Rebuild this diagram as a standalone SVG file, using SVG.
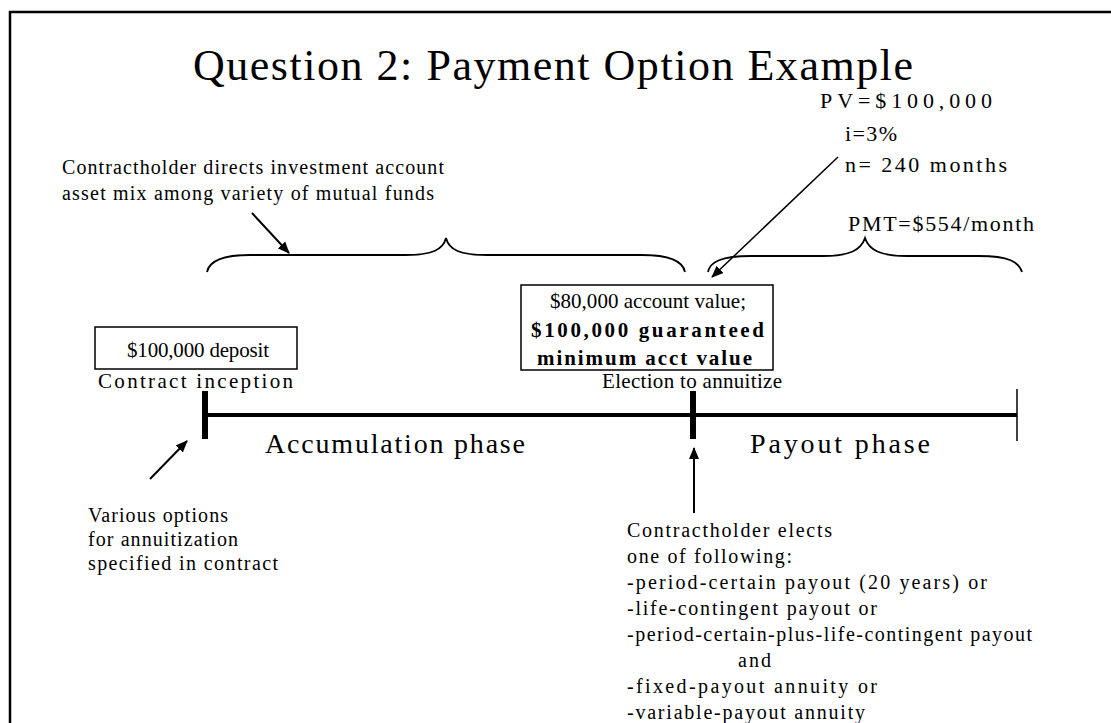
<svg xmlns="http://www.w3.org/2000/svg" width="1111" height="723" viewBox="0 0 1111 723">
<style>
text{font-family:"Liberation Serif","Times New Roman",serif;fill:#000;}
.s{font-size:20px;}
.m{font-size:21px;}
.c{font-size:22px;}
.b{font-size:21px;font-weight:bold;}
.l{font-size:28px;}
.t{font-size:44px;}
.ln{stroke:#000;fill:none;}
</style>
<defs>
<marker id="ah" markerWidth="12" markerHeight="10" refX="11" refY="5" orient="auto" markerUnits="userSpaceOnUse">
<path d="M0,0 L12,5 L0,10 Z" fill="#000"/>
</marker>
</defs>
<rect width="1111" height="723" fill="#fff"/>
<g id="frame">
<path class="ln" d="M10,723 L10,12 L1111,12" stroke-width="2.5"/>
</g>
<g id="title">
<text class="t" x="193" y="80" textLength="720" lengthAdjust="spacing">Question 2:  Payment Option Example</text>
</g>
<g id="calc">
<text class="c" x="820" y="108" textLength="172" lengthAdjust="spacing">PV=$100,000</text>
<text class="c" x="845" y="141" textLength="52" lengthAdjust="spacing">i=3%</text>
<text class="c" x="845" y="172" textLength="162" lengthAdjust="spacing">n= 240 months</text>
<text class="c" x="848" y="231" textLength="186" lengthAdjust="spacing">PMT=$554/month</text>
</g>
<g id="invest-note">
<text class="s" x="62" y="174" textLength="382" lengthAdjust="spacing">Contractholder directs investment account</text>
<text class="s" x="62" y="200" textLength="372" lengthAdjust="spacing">asset mix among variety of mutual funds</text>
</g>
<g id="deposit">
<rect x="95" y="327" width="202" height="42" fill="#fff" stroke="#000" stroke-width="1.5"/>
<text class="m" x="127" y="357" textLength="142" lengthAdjust="spacing">$100,000 deposit</text>
<text class="m" x="98" y="388" textLength="195" lengthAdjust="spacing">Contract  inception</text>
</g>
<g id="account">
<rect x="521" y="285" width="252" height="85" fill="#fff" stroke="#000" stroke-width="1.5"/>
<text class="m" x="550" y="308" textLength="196" lengthAdjust="spacing">$80,000 account value;</text>
<text class="b" x="531" y="337" textLength="233" lengthAdjust="spacing">$100,000 guaranteed</text>
<text class="b" x="537" y="365" textLength="215" lengthAdjust="spacing">minimum acct value</text>
<text class="m" x="602" y="388" textLength="180" lengthAdjust="spacing">Election to annuitize</text>
</g>
<g id="timeline">
<line class="ln" x1="205" y1="415" x2="1017" y2="415" stroke-width="4"/>
<line class="ln" x1="205" y1="391" x2="205" y2="439" stroke-width="6"/>
<line class="ln" x1="693" y1="391" x2="693" y2="439" stroke-width="6"/>
<line class="ln" x1="1017" y1="389" x2="1017" y2="441" stroke-width="1.5"/>
<text class="l" x="265" y="453" textLength="260" lengthAdjust="spacing">Accumulation phase</text>
<text class="l" x="750" y="453" textLength="180" lengthAdjust="spacing">Payout phase</text>
</g>
<g id="options-note">
<text class="s" x="88" y="522" textLength="140" lengthAdjust="spacing">Various options</text>
<text class="s" x="88" y="546" textLength="150" lengthAdjust="spacing">for annuitization</text>
<text class="s" x="88" y="570" textLength="190" lengthAdjust="spacing">specified in contract</text>
</g>
<g id="elects-note">
<text class="s" x="627" y="537" textLength="205" lengthAdjust="spacing">Contractholder elects</text>
<text class="s" x="627" y="563" textLength="165" lengthAdjust="spacing">one of following:</text>
<text class="s" x="627" y="589" textLength="360" lengthAdjust="spacing">-period-certain payout (20 years)  or</text>
<text class="s" x="627" y="615" textLength="250" lengthAdjust="spacing">-life-contingent payout  or</text>
<text class="s" x="627" y="641" textLength="405" lengthAdjust="spacing">-period-certain-plus-life-contingent payout</text>
<text class="s" x="738" y="667" textLength="33" lengthAdjust="spacing">and</text>
<text class="s" x="627" y="693" textLength="250" lengthAdjust="spacing">-fixed-payout annuity  or</text>
<text class="s" x="627" y="719" textLength="238" lengthAdjust="spacing">-variable-payout annuity</text>
</g>
<g id="connectors">
<path class="ln" stroke-width="1.8" d="M207,272 C209,262 220,255 250,255 L405,255 C432,255 443,250 446,238 C449,250 460,255 487,255 L642,255 C672,255 683,262 685,272"/>
<path class="ln" stroke-width="1.8" d="M708,272 C710,262 721,256 751,256 L823,256 C850,256 861,250 865,238 C869,250 880,256 907,256 L979,256 C1009,256 1019,262 1022,272"/>
<line class="ln" stroke-width="2" x1="252" y1="213" x2="289" y2="253" marker-end="url(#ah)"/>
<line class="ln" stroke-width="1.5" x1="838" y1="157" x2="712" y2="277" marker-end="url(#ah)"/>
<line class="ln" stroke-width="2" x1="150" y1="479" x2="187" y2="441" marker-end="url(#ah)"/>
<line class="ln" stroke-width="2" x1="694" y1="513" x2="694" y2="448" marker-end="url(#ah)"/>
</g>
</svg>
